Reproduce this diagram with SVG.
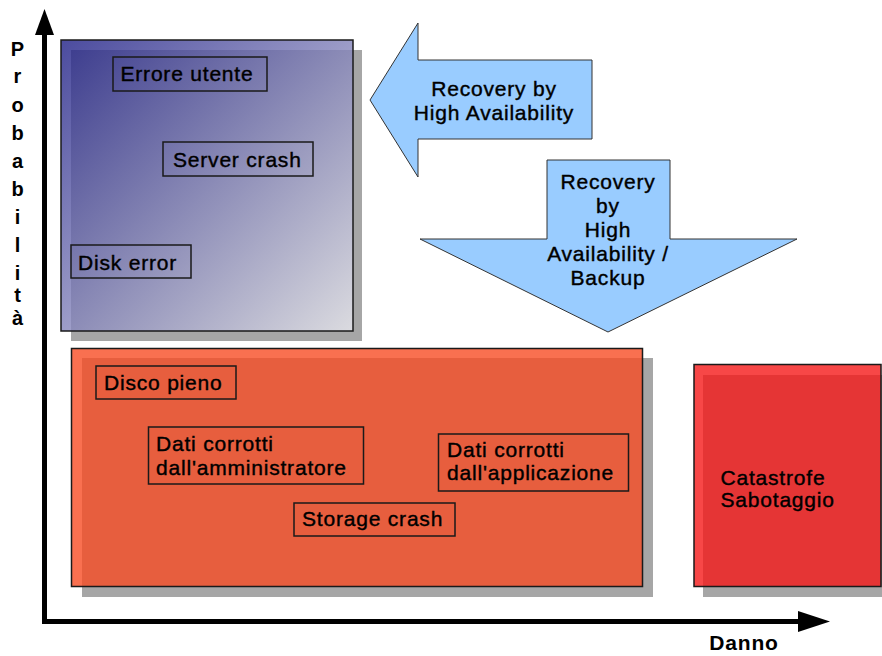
<svg xmlns="http://www.w3.org/2000/svg" width="882" height="656" viewBox="0 0 882 656">
  <defs>
    <linearGradient id="blueGrad" x1="0" y1="0" x2="1" y2="1">
      <stop offset="0" stop-color="#1e1e86"/>
      <stop offset="1" stop-color="#e8e8ee"/>
    </linearGradient>
    <style>
      .shadow { fill: #a6a6a6; }
      .main { stroke: #1a1a1a; stroke-width: 1.5; }
      .lbl { fill: none; stroke: #1a1a1a; stroke-width: 1.5; }
      .t { font-family: "Liberation Sans", Arial, sans-serif; font-size: 21px; fill: #000; stroke: #000; stroke-width: 0.4px; letter-spacing: 0.8px; }
      .ax { font-family: "Liberation Sans", Arial, sans-serif; font-size: 20px; font-weight: bold; fill: #000; text-anchor: middle; }
      .arrow { fill: #99ccff; stroke: #333333; stroke-width: 1; }
      .axis { fill: none; stroke: #000; stroke-width: 5; }
    </style>
  </defs>
  <rect width="882" height="656" fill="#ffffff"/>

  <g id="connectors">
    <polyline class="axis" points="44.5,30 44.5,621.5 800,621.5"/>
    <polygon points="35,35 44.5,9 54,35" fill="#000"/>
    <polygon points="798,611 830,621.5 798,632" fill="#000"/>
  </g>

  <g id="axis-y-label">
    <text class="ax" x="17.5" y="56">P</text>
    <text class="ax" x="17.5" y="83">r</text>
    <text class="ax" x="17.5" y="112">o</text>
    <text class="ax" x="17.5" y="140">b</text>
    <text class="ax" x="17.5" y="168">a</text>
    <text class="ax" x="17.5" y="196">b</text>
    <text class="ax" x="17.5" y="224">i</text>
    <text class="ax" x="17.5" y="252">l</text>
    <text class="ax" x="17.5" y="280">i</text>
    <text class="ax" x="17.5" y="302">t</text>
    <text class="ax" x="17.5" y="325">à</text>
  </g>
  <g id="axis-x-label">
    <text class="ax" x="744" y="650" style="font-size:21px;letter-spacing:0.8px">Danno</text>
  </g>

  <g id="blue-zone">
    <rect class="shadow" x="71" y="50" width="291" height="291"/>
    <rect class="main" x="61" y="40" width="292" height="291" fill="url(#blueGrad)" fill-opacity="0.8"/>
  </g>
  <g id="errore-utente">
    <rect class="lbl" x="113" y="57" width="154" height="34"/>
    <text class="t" x="120.5" y="81">Errore utente</text>
  </g>
  <g id="server-crash">
    <rect class="lbl" x="163" y="142" width="150" height="34"/>
    <text class="t" x="173" y="167">Server crash</text>
  </g>
  <g id="disk-error">
    <rect class="lbl" x="71" y="245" width="120" height="33"/>
    <text class="t" x="78" y="269.5">Disk error</text>
  </g>

  <g id="arrow-left">
    <polygon class="arrow" points="370,100 418,23 418,60 592,60 592,139 418,139 418,177"/>
    <text class="t" x="494" y="96" text-anchor="middle">Recovery by</text>
    <text class="t" x="494" y="119.5" text-anchor="middle">High Availability</text>
  </g>

  <g id="arrow-down">
    <polygon class="arrow" points="547,160 670,160 670,239 797,239 608,332 420,239 547,239"/>
    <text class="t" x="608" y="188.5" text-anchor="middle">Recovery</text>
    <text class="t" x="608" y="212.5" text-anchor="middle">by</text>
    <text class="t" x="608" y="236.5" text-anchor="middle">High</text>
    <text class="t" x="608" y="260.5" text-anchor="middle">Availability /</text>
    <text class="t" x="608" y="285" text-anchor="middle">Backup</text>
  </g>

  <g id="orange-zone">
    <rect class="shadow" x="82" y="358" width="571" height="239"/>
    <rect class="main" x="71.5" y="348.5" width="571" height="238" fill="#f84c24" fill-opacity="0.8"/>
  </g>
  <g id="disco-pieno">
    <rect class="lbl" x="96" y="366" width="140" height="33"/>
    <text class="t" x="104" y="390">Disco pieno</text>
  </g>
  <g id="dati-amministratore">
    <rect class="lbl" x="148.5" y="427" width="215" height="57"/>
    <text class="t" x="156" y="451">Dati corrotti</text>
    <text class="t" x="156" y="474.5">dall'amministratore</text>
  </g>
  <g id="dati-applicazione">
    <rect class="lbl" x="438.5" y="434" width="190" height="57"/>
    <text class="t" x="447" y="457">Dati corrotti</text>
    <text class="t" x="447" y="480">dall'applicazione</text>
  </g>
  <g id="storage-crash">
    <rect class="lbl" x="294" y="503" width="161" height="33"/>
    <text class="t" x="302" y="526">Storage crash</text>
  </g>

  <g id="red-zone">
    <rect class="shadow" x="703" y="375" width="190" height="222"/>
    <rect class="main" x="694" y="364.5" width="187" height="222" fill="#f51919" fill-opacity="0.8"/>
    <text class="t" x="720.5" y="484.5">Catastrofe</text>
    <text class="t" x="720.5" y="507">Sabotaggio</text>
  </g>
</svg>
